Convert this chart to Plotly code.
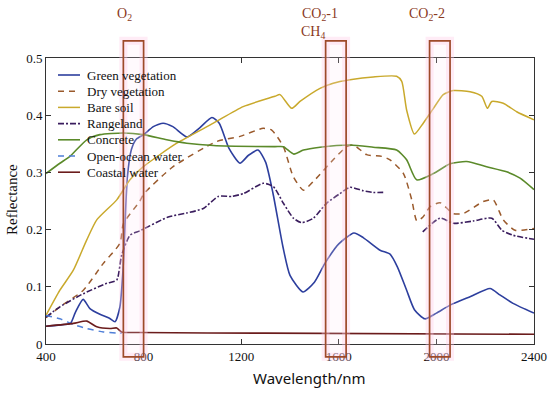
import plotly.graph_objects as go

# ---------------- data ----------------
green_wl = [400, 450, 500, 520, 552, 580, 621, 660, 683, 703, 717, 733, 750, 770, 800, 840, 880, 920, 978, 1030, 1080, 1110, 1150, 1195, 1230, 1269, 1300, 1330, 1371, 1400, 1453, 1500, 1543, 1600, 1662, 1700, 1769, 1810, 1840, 1878, 1910, 1953, 2000, 2056, 2140, 2220, 2260, 2314, 2400]
green_r = [0.031, 0.033, 0.036, 0.055, 0.078, 0.062, 0.052, 0.045, 0.039, 0.065, 0.14, 0.29, 0.34, 0.358, 0.366, 0.38, 0.386, 0.38, 0.362, 0.378, 0.396, 0.386, 0.342, 0.316, 0.33, 0.339, 0.318, 0.264, 0.17, 0.12, 0.091, 0.108, 0.141, 0.175, 0.194, 0.186, 0.164, 0.157, 0.135, 0.094, 0.06, 0.044, 0.054, 0.068, 0.083, 0.097, 0.086, 0.071, 0.054]

dry_wl = [400, 457, 553, 635, 703, 717, 785, 800, 921, 1100, 1195, 1290, 1325, 1373, 1413, 1455, 1502, 1577, 1632, 1660, 1714, 1776, 1810, 1865, 1899, 1920, 1945, 1974, 2015, 2069, 2110, 2192, 2233, 2274, 2322, 2400]
dry_r = [0.046, 0.065, 0.094, 0.141, 0.176, 0.21, 0.25, 0.262, 0.31, 0.354, 0.363, 0.377, 0.374, 0.345, 0.293, 0.269, 0.287, 0.322, 0.345, 0.348, 0.331, 0.328, 0.322, 0.298, 0.252, 0.215, 0.222, 0.24, 0.247, 0.228, 0.228, 0.249, 0.252, 0.217, 0.199, 0.202]

soil_wl = [400, 457, 512, 567, 608, 690, 744, 799, 936, 1086, 1208, 1338, 1359, 1407, 1441, 1523, 1577, 1646, 1741, 1837, 1858, 1878, 1910, 1946, 1988, 2028, 2069, 2138, 2186, 2209, 2227, 2274, 2329, 2400]
soil_r = [0.05, 0.094, 0.129, 0.182, 0.217, 0.252, 0.287, 0.31, 0.351, 0.386, 0.415, 0.433, 0.436, 0.412, 0.424, 0.447, 0.456, 0.462, 0.467, 0.468, 0.459, 0.409, 0.367, 0.386, 0.412, 0.436, 0.443, 0.441, 0.433, 0.412, 0.424, 0.421, 0.406, 0.392]

range_wl = [400, 457, 553, 649, 690, 710, 744, 785, 901, 977, 1045, 1106, 1161, 1209, 1291, 1332, 1373, 1414, 1448, 1496, 1550, 1605, 1646, 1700, 1741, 1782, None, 1944, 2015, 2069, 2151, 2227, 2268, 2315, 2400]
range_r = [0.047, 0.065, 0.088, 0.106, 0.112, 0.155, 0.19, 0.198, 0.222, 0.229, 0.237, 0.258, 0.258, 0.263, 0.281, 0.275, 0.246, 0.22, 0.212, 0.22, 0.246, 0.263, 0.274, 0.268, 0.265, 0.265, None, 0.196, 0.22, 0.211, 0.215, 0.22, 0.199, 0.19, 0.183]

concrete_wl = [400, 457, 498, 567, 621, 717, 799, 895, 977, 1086, 1338, 1373, 1416, 1455, 1523, 1646, 1741, 1837, 1878, 1919, 1988, 2056, 2124, 2206, 2288, 2343, 2400]
concrete_r = [0.298, 0.316, 0.328, 0.357, 0.366, 0.369, 0.366, 0.357, 0.351, 0.347, 0.345, 0.345, 0.332, 0.339, 0.344, 0.348, 0.344, 0.339, 0.322, 0.287, 0.298, 0.315, 0.319, 0.31, 0.301, 0.29, 0.27]

ocean_wl = [400, 457, 512, 567, 635, 690, 710]
ocean_r = [0.05, 0.044, 0.034, 0.027, 0.021, 0.019, 0.019]

coastal_wl = [400, 512, 567, 608, 662, 690, 710, 785, 1300, 2400]
coastal_r = [0.031, 0.036, 0.04, 0.03, 0.027, 0.028, 0.021, 0.02, 0.019, 0.017]

bands = [(717, 800), (1546, 1630), (1972, 2056)]
band_labels = ["O<sub>2</sub>", "CO<sub>2</sub>-1", "CH<sub>4</sub>", "CO<sub>2</sub>-2"]

x_ticks = [400, 800, 1200, 1600, 2000, 2400]
y_ticks = [0, 0.1, 0.2, 0.3, 0.4, 0.5]
y_ticklabels = ["0", "0.1", "0.2", "0.3", "0.4", "0.5"]

SERIF = "Liberation Serif, Times New Roman, serif"

names = ["Green vegetation", "Dry vegetation", "Bare soil", "Rangeland", "Concrete", "Open-ocean water", "Coastal water"]
xs_all = [green_wl, dry_wl, soil_wl, range_wl, concrete_wl, ocean_wl, coastal_wl]
ys_all = [green_r, dry_r, soil_r, range_r, concrete_r, ocean_r, coastal_r]
colors = ["#2d3f9e", "#9a5a2c", "#c9a92c", "#3a1d5e", "#5b8a2a", "#4f7fd8", "#6b1c1c"]
dashes = ["solid", "6px,5px", "solid", "6px,2px,2px,2px", "solid", "6px,5px", "solid"]
widths = [1.6, 1.5, 1.5, 1.6, 1.6, 1.5, 1.6]

# ---------------- layout geometry (pixels) ----------------
W, H = 550, 393
L, R, T, B = 46, 16, 58, 49
pw, ph = W - L - R, H - T - B


def px2paper(px, py):
    return (px - L) / pw, 1 - (py - T) / ph


fig = go.Figure()
for name, xs, ys, col, dash, w in zip(names, xs_all, ys_all, colors, dashes, widths):
    fig.add_trace(go.Scatter(
        x=xs, y=ys, mode="lines", name=name, showlegend=False,
        line=dict(color=col, dash=dash, width=w, shape="spline", smoothing=0.6),
        connectgaps=False,
    ))

shapes = []
for (a, b) in bands:
    shapes.append(dict(type="rect", xref="x", yref="paper", x0=a, x1=b, y0=-0.045, y1=1.06,
                       line=dict(color="rgba(255,200,230,0.35)", width=8),
                       fillcolor="rgba(255,230,242,0.18)", layer="above"))
    shapes.append(dict(type="rect", xref="x", yref="paper", x0=a, x1=b, y0=-0.045, y1=1.06,
                       line=dict(color="#9e4a2a", width=1.7), fillcolor="rgba(0,0,0,0)", layer="above"))

annotations = []
# band labels (pixel positions)
label_pos = [(124, 15), (320, 15), (313, 33), (427, 15)]
for txt, (lx, ly) in zip(band_labels, label_pos):
    ax, ay = px2paper(lx, ly)
    annotations.append(dict(text=txt, x=ax, y=ay, xref="paper", yref="paper", showarrow=False,
                            font=dict(family=SERIF, size=14, color="#8b3a1e"),
                            xanchor="center", yanchor="middle"))

# manual legend (compact row spacing)
for i, (name, col, dash, w) in enumerate(zip(names, colors, dashes, widths)):
    ry = 75 + i * 16.2
    x0, y0 = px2paper(58, ry)
    x1, _ = px2paper(80, ry)
    shapes.append(dict(type="line", xref="paper", yref="paper", x0=x0, x1=x1, y0=y0, y1=y0,
                       line=dict(color=col, dash=dash, width=w)))
    tx, ty = px2paper(85, ry)
    annotations.append(dict(text=name, x=tx, y=ty, xref="paper", yref="paper", showarrow=False,
                            font=dict(family=SERIF, size=13, color="#111"),
                            xanchor="left", yanchor="middle"))

ax, ay = px2paper(309, 378)
annotations.append(dict(text="Wavelength/nm", x=ax, y=ay, xref="paper", yref="paper",
                        showarrow=False, font=dict(family="Noto Sans, sans-serif", size=15, color="#111"),
                        xanchor="center", yanchor="middle"))
ax, ay = px2paper(12, 200)
annotations.append(dict(text="Reflectance", x=ax, y=ay, xref="paper", yref="paper",
                        showarrow=False, textangle=-90, font=dict(family=SERIF, size=15, color="#111"),
                        xanchor="center", yanchor="middle"))

fig.update_layout(
    width=W, height=H, autosize=False,
    margin=dict(l=L, r=R, t=T, b=B, autoexpand=False),
    paper_bgcolor="white", plot_bgcolor="white",
    shapes=shapes, annotations=annotations,
    showlegend=False,
    font=dict(family=SERIF, size=13, color="#111"),
)
fig.update_xaxes(range=[400, 2400], tickvals=x_ticks, ticktext=[str(v) for v in x_ticks], automargin=False,
                 ticks="inside", ticklen=5, tickcolor="#333", showline=True, linecolor="#333", linewidth=1,
                 mirror="ticks", showgrid=False, zeroline=False, tickfont=dict(family=SERIF, size=13, color="#111"))
fig.update_yaxes(range=[0, 0.5], tickvals=y_ticks, ticktext=y_ticklabels, automargin=False,
                 ticks="inside", ticklen=5, tickcolor="#333", showline=True, linecolor="#333", linewidth=1,
                 mirror="ticks", showgrid=False, zeroline=False, tickfont=dict(family=SERIF, size=13, color="#111"))

fig.write_html("out.html", config={"displayModeBar": False},
               post_script="document.body.style.margin='0';document.body.style.overflow='hidden';")
